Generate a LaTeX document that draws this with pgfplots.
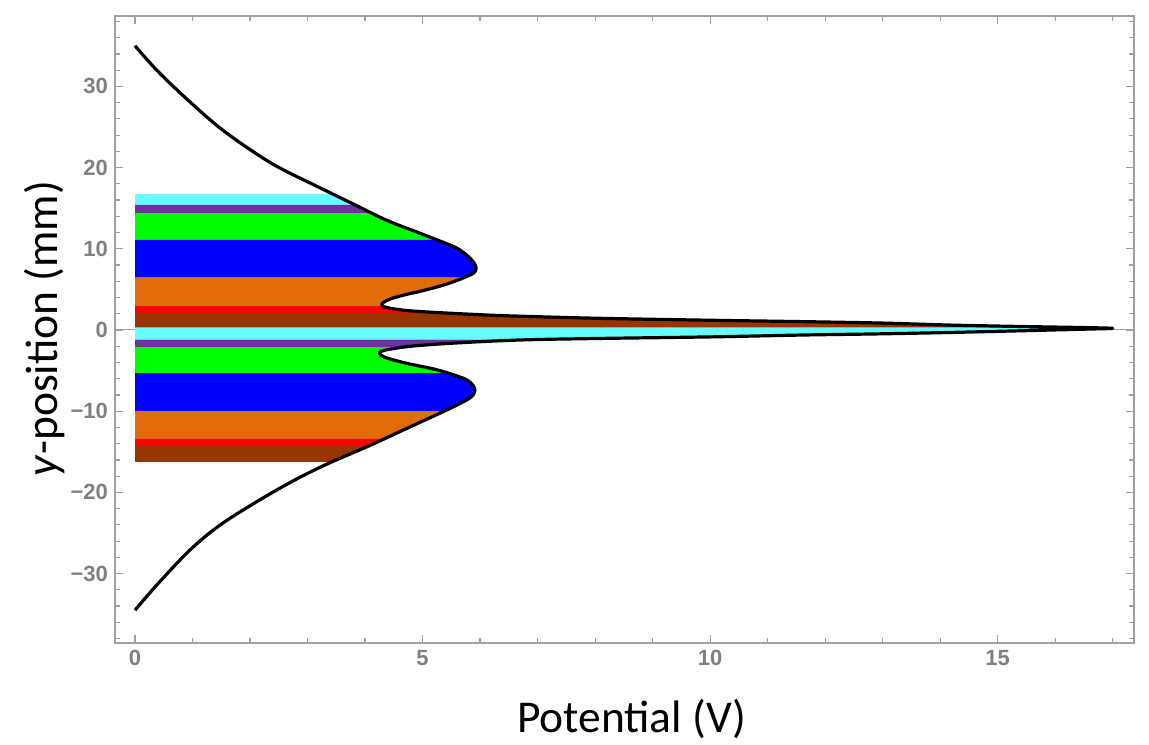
\documentclass[border=0pt]{standalone}
\usepackage{fontspec}
\setmainfont{Carlito}
\newfontfamily\tickfont{Liberation Sans}
\usepackage{pgfplots}
\pgfplotsset{compat=1.18}
\usepackage{pgfplotstable}

\definecolor{cyanb}{RGB}{102,255,255}
\definecolor{purpleb}{RGB}{112,48,160}
\definecolor{greenb}{RGB}{0,255,0}
\definecolor{blueb}{RGB}{0,0,255}
\definecolor{orangeb}{RGB}{226,107,10}
\definecolor{redb}{RGB}{255,0,0}
\definecolor{brownb}{RGB}{153,51,0}
\definecolor{framegray}{RGB}{160,160,160}
\definecolor{labelgray}{RGB}{128,128,128}

\pgfplotstableread{
x y
0 35.0
0.405 31.8
0.985 27.9
1.565 24.4
2.38 20.5
3.22 17.5
3.8 15.5
4.38 13.5
4.96 11.9
5.53 10.3
5.72 9.5
5.83 8.8
5.9 8.2
5.93 7.6
5.9 7.1
5.79 6.65
5.5 5.85
5.25 5.3
4.95 4.75
4.67 4.3
4.45 3.85
4.33 3.45
4.29 3.2
4.3 2.95
4.42 2.7
4.6 2.5
4.8 2.35
5.25 2.15
6.1 1.85
6.7 1.7
8 1.45
10 1.2
11.6 1.03
13 0.85
14.2 0.6
15.5 0.42
16.5 0.3
17.0 0.2
16.5 0.1
15.5 -0.08
14.2 -0.3
13 -0.47
11.6 -0.62
10 -0.85
8 -1.05
6.7 -1.23
5.53 -1.62
4.8 -2.0
4.4 -2.4
4.28 -2.65
4.25 -2.87
4.3 -3.2
4.4 -3.5
4.75 -4.15
5.25 -4.9
5.71 -5.95
5.85 -6.6
5.91 -7.3
5.88 -8.0
5.77 -8.6
5.42 -9.85
4.67 -12.3
4.09 -14.2
3.22 -16.9
2.49 -19.6
1.565 -23.6
0.985 -26.9
0.405 -31.2
0 -34.5
}\curvedata

\begin{document}
\begin{tikzpicture}
\useasboundingbox (-57.5pt,-50.5pt) rectangle (517pt,321.5pt);
\begin{axis}[
  at={(0,0)}, anchor=south west,
  scale only axis, width=509.5pt, height=313.5pt,
  xmin=-0.348, xmax=17.37, ymin=-38.55, ymax=38.67,
  xtick={0,5,10,15}, xticklabels={0,5,10,15},
  minor xtick={1,2,3,4,6,7,8,9,11,12,13,14,16,17},
  ytick={-30,-20,-10,0,10,20,30},
  yticklabels={−30,−20,−10,0,10,20,30},
  minor ytick={-38,-36,...,38},
  axis line style={draw=framegray, line width=0.8pt},
  tick style={draw=framegray, line width=0.6pt},
  major tick length=4pt, minor tick length=2.5pt,
  tick align=inside,
  ticklabel style={font=\tickfont\bfseries\fontsize{11}{13}\selectfont, text=labelgray},
  xlabel={Potential (V)},
  xlabel style={at={(axis description cs:0.5069,-0.1435)}, anchor=base, font=\fontsize{22.75}{27}\selectfont},
  ylabel={\textit{y}-position (mm)},
  ylabel style={at={(axis description cs:-0.0565,0.5016)}, anchor=base, font=\fontsize{22.75}{27}\selectfont},
]
\addplot[framegray, line width=0.5pt] coordinates {(-0.348,0) (17.37,0)};

% upper bands
\addplot[fill=cyanb, draw=none] coordinates {(0,16.75) (3.45,16.75) (3.8,15.5) (3.83,15.4) (0,15.4)};
\addplot[fill=purpleb, draw=none] coordinates {(0,15.4) (3.83,15.4) (4.12,14.4) (0,14.4)};
\addplot[fill=greenb, draw=none] coordinates {(0,14.4) (4.12,14.4) (4.38,13.5) (4.96,11.9) (5.25,11.1) (0,11.1)};
\addplot[fill=blueb, draw=none] coordinates {(0,11.1) (5.25,11.1) (5.53,10.3) (5.72,9.5) (5.83,8.8) (5.9,8.2) (5.93,7.6) (5.9,7.1) (5.79,6.65) (5.71,6.45) (0,6.45)};
\addplot[fill=orangeb, draw=none] coordinates {(0,6.45) (5.71,6.45) (5.5,5.85) (5.25,5.3) (4.95,4.75) (4.67,4.3) (4.45,3.85) (4.33,3.45) (4.29,3.2) (4.3,2.95) (0,2.95)};
\addplot[fill=redb, draw=none] coordinates {(0,2.95) (4.3,2.95) (4.42,2.7) (4.6,2.5) (4.8,2.35) (5.25,2.15) (5.45,2.08) (0,2.08)};
\addplot[fill=brownb, draw=none] coordinates {(0,2.08) (5.45,2.08) (6.1,1.85) (6.7,1.7) (8,1.45) (10,1.2) (11.6,1.03) (13,0.85) (14.2,0.6) (15.5,0.42) (16.5,0.3) (0,0.3)};
% lower bands
\addplot[fill=cyanb, draw=none] coordinates {(0,0.3) (16.5,0.3) (17.0,0.2) (16.5,0.1) (15.5,-0.08) (14.2,-0.3) (13,-0.47) (11.6,-0.62) (10,-0.85) (8,-1.05) (7.06,-1.18) (0,-1.18)};
\addplot[fill=purpleb, draw=none] coordinates {(0,-1.18) (7.06,-1.18) (6.7,-1.23) (5.53,-1.62) (4.8,-2.0) (4.7,-2.1) (0,-2.1)};
\addplot[fill=greenb, draw=none] coordinates {(0,-2.1) (4.7,-2.1) (4.4,-2.4) (4.28,-2.65) (4.25,-2.87) (4.3,-3.2) (4.4,-3.5) (4.75,-4.15) (5.25,-4.9) (5.43,-5.3) (0,-5.3)};
\addplot[fill=blueb, draw=none] coordinates {(0,-5.3) (5.43,-5.3) (5.71,-5.95) (5.85,-6.6) (5.91,-7.3) (5.88,-8.0) (5.77,-8.6) (5.42,-9.85) (5.37,-10.0) (0,-10.0)};
\addplot[fill=orangeb, draw=none] coordinates {(0,-10.0) (5.37,-10.0) (4.67,-12.3) (4.33,-13.4) (0,-13.4)};
\addplot[fill=redb, draw=none] coordinates {(0,-13.4) (4.33,-13.4) (4.09,-14.2) (4.06,-14.3) (0,-14.3)};
\addplot[fill=brownb, draw=none] coordinates {(0,-14.3) (4.06,-14.3) (3.43,-16.25) (0,-16.25)};

\addplot[black, line width=1.6pt, smooth, tension=0.55, line join=round] table[x=x,y=y] {\curvedata};
\end{axis}
\end{tikzpicture}
\end{document}
